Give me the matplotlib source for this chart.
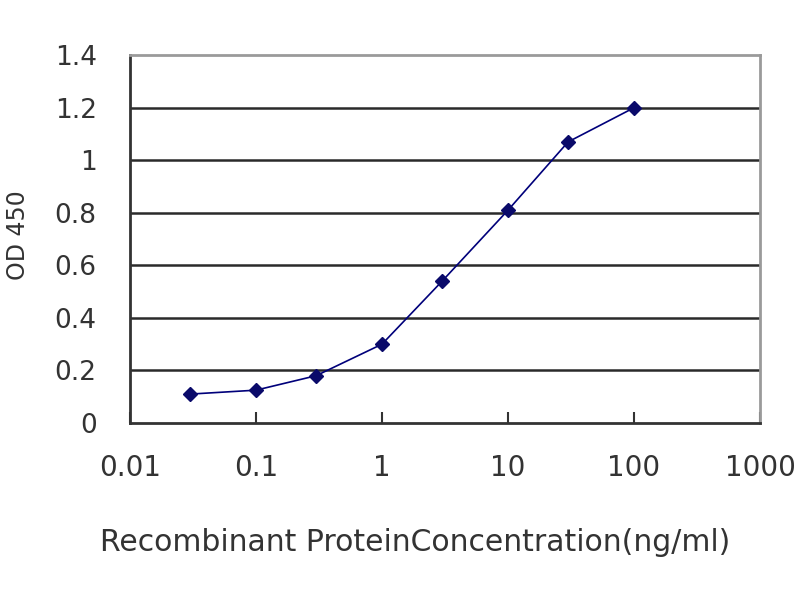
import numpy as np
import matplotlib.pyplot as plt
from matplotlib.ticker import FixedLocator, FixedFormatter, NullLocator

# Concentration (ng/ml) and OD 450 readings
conc = [0.03, 0.1, 0.3, 1, 3, 10, 30, 100]
od450 = [0.11, 0.125, 0.18, 0.30, 0.54, 0.81, 1.07, 1.20]

xticks = [0.01, 0.1, 1, 10, 100, 1000]
xtick_labels = ['0.01', '0.1', '1', '10', '100', '1000']
yticks = [0, 0.2, 0.4, 0.6, 0.8, 1, 1.2, 1.4]
ytick_labels = ['0', '0.2', '0.4', '0.6', '0.8', '1', '1.2', '1.4']

plt.rcParams['font.family'] = ['DejaVu Sans']

fig = plt.figure(figsize=(8, 6), dpi=100)
ax = fig.add_axes([0.1625, 0.295, 0.7875, 0.613])

# horizontal gridlines like the Excel chart
for y in yticks[1:-1]:
    ax.axhline(y, color='#2a2a2a', lw=1.8, zorder=1)

ax.plot(conc, od450, color='#00007a', lw=1.2, marker='D', markersize=7,
        markerfacecolor='#0a0a6a', markeredgecolor='#0a0a6a', zorder=3)

ax.set_xscale('log')
ax.set_xlim(0.01, 1000)
ax.set_ylim(0, 1.4)

ax.xaxis.set_major_locator(FixedLocator(xticks))
ax.xaxis.set_major_formatter(FixedFormatter(xtick_labels))
ax.xaxis.set_minor_locator(NullLocator())
ax.yaxis.set_major_locator(FixedLocator(yticks))
ax.yaxis.set_major_formatter(FixedFormatter(ytick_labels))

ax.tick_params(axis='x', direction='in', length=8, width=1.5, color='#333333',
               labelsize=20, pad=22, labelcolor='#333333')
ax.tick_params(axis='y', length=0, labelsize=19, pad=24, labelcolor='#333333')

for side in ['left', 'bottom']:
    ax.spines[side].set_color('#333333')
    ax.spines[side].set_linewidth(2)
for side in ['top', 'right']:
    ax.spines[side].set_color('#9a9a9a')
    ax.spines[side].set_linewidth(2)

ax.set_xlabel('Recombinant ProteinConcentration(ng/ml)', fontsize=21.5,
              color='#333333')
ax.xaxis.set_label_coords(0.452, -0.285)
ax.set_ylabel('OD 450', fontsize=17, color='#333333')
ax.yaxis.set_label_coords(-0.158, 0.51)

fig.savefig('out.png', dpi=100)
